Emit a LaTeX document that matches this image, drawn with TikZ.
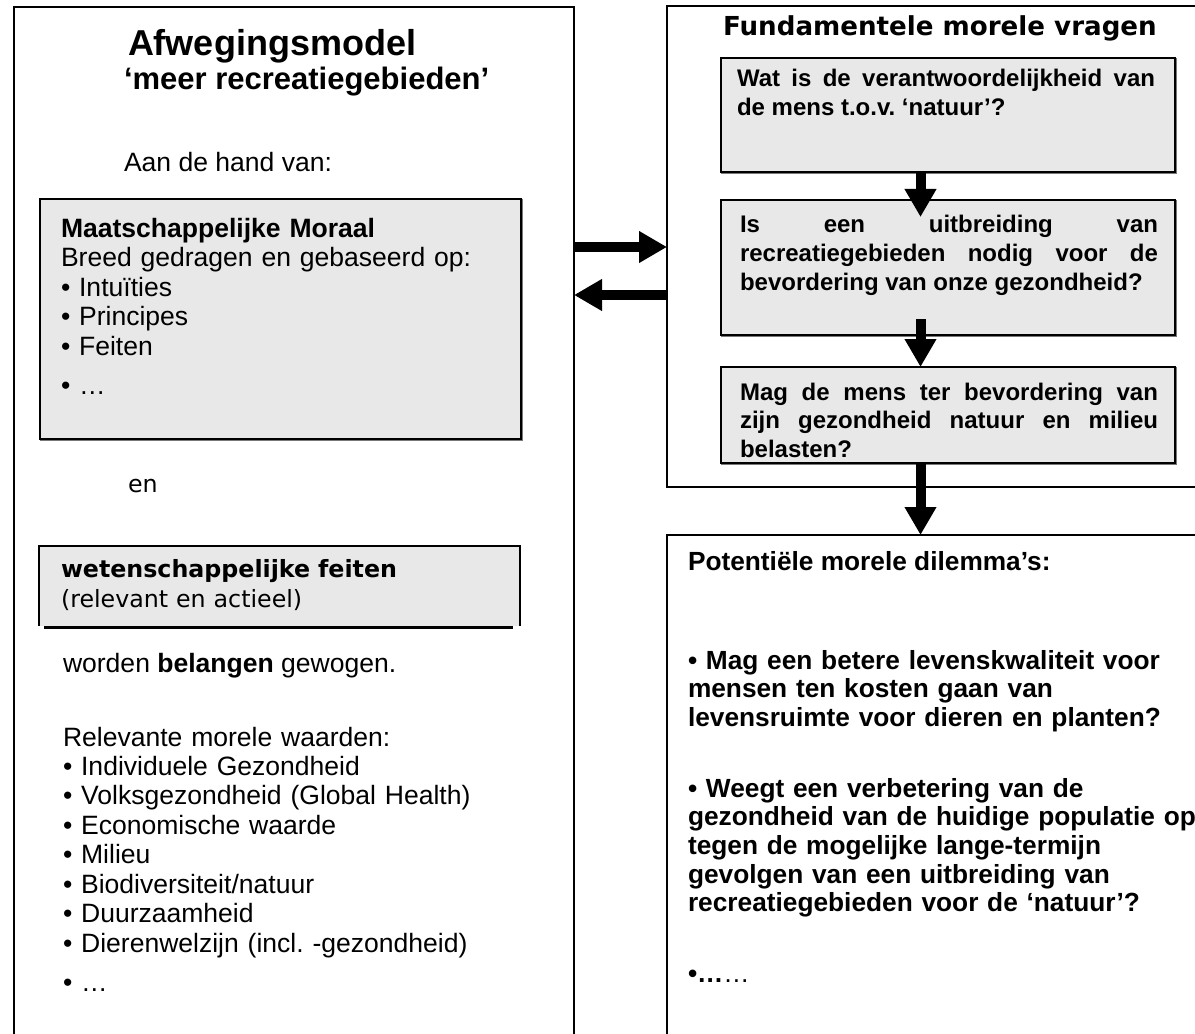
\documentclass[tikz,border=0pt]{standalone}
\usepackage{fontspec}
\setmainfont{Liberation Sans}
\newfontfamily\verd{DejaVu Sans}
\usetikzlibrary{arrows.meta}
\definecolor{boxgray}{RGB}{232,232,232}
\definecolor{shadowgray}{RGB}{120,120,120}
\newcommand\fsz[2]{\fontsize{#1}{#2}\selectfont}
\begin{document}
\frenchspacing
\begin{tikzpicture}[x=0.75pt,y=-0.75pt,
  frame/.style={draw=black, line width=1.1pt, inner sep=0pt, outer sep=0pt, anchor=north west},
  graybox/.style={draw=black, fill=boxgray, line width=1.3pt, inner sep=0pt, outer sep=0pt, anchor=north west},
  boxshadow/.style={draw=shadowgray, line width=1pt},
  txt/.style={anchor=base west, inner sep=0pt, outer sep=0pt, align=left},
  block/.style={anchor=base west, inner sep=0pt, outer sep=0pt, align=left, text width=#1},
  qtxt/.style={anchor=base west, inner sep=0pt, outer sep=0pt, align=justify, text width=313.5pt,
     font={\fsz{18}{21.4}\bfseries\frenchspacing\hyphenpenalty=10000\exhyphenpenalty=10000\tolerance=10000}},
  bigarrow/.style={line width=7.5pt, -{Triangle[length=21pt,width=22.5pt]}},
]
\useasboundingbox (0,0) rectangle (1195,1034);
\clip (0,0) rectangle (1195,1034);
\fill[white] (0,0) rectangle (1195,1034);

% outer frames
\node[frame, minimum width=420pt, minimum height=825pt] (leftbox) at (14,7) {};
\node[frame, minimum width=450pt, minimum height=360.75pt] (topbox) at (667,6) {};
\node[frame, minimum width=450pt, minimum height=450pt, line width=1.5pt] (botbox) at (667,535) {};

% left column
\node[txt, font={\fsz{27}{32}\bfseries}] (title) at (128,56) {Afwegingsmodel};
\node[txt, font={\fsz{23.25}{28}\bfseries}] (sub) at (124,90) {‘meer recreatiegebieden’};
\node[txt, font={\fsz{19.9}{22}}] (aan) at (124,172) {Aan de hand van:};

\node[graybox, minimum width=360.75pt, minimum height=180pt] (moraalbox) at (40,199) {};
\draw[boxshadow] ([xshift=1.3pt]moraalbox.north east) -- ([xshift=1.3pt,yshift=-1.3pt]moraalbox.south east) -- ([yshift=-1.3pt]moraalbox.south west);
\node[block=340pt, font={\fsz{19.9}{22.1}}] (moraal) at (61,237.5) {\textbf{Maatschappelijke Moraal}\\Breed gedragen en gebaseerd op:\\• Intuïties\\• Principes\\• Feiten\\[7pt]• …};

\node[txt, font={\verd\fsz{17.8}{20}}] (en) at (128,492) {en};

\node[fill=boxgray, inner sep=0pt, outer sep=0pt, anchor=north west, minimum width=360.75pt, minimum height=60pt] (wfbox) at (39,546) {};
\draw[line width=1.3pt] (wfbox.south west) -- (wfbox.north west) -- (wfbox.north east) -- (wfbox.south east);
\draw[line width=1.8pt] ([xshift=4pt,yshift=-1.2pt]wfbox.south west) -- ([xshift=-5pt,yshift=-1.2pt]wfbox.south east);
\node[block=340pt, font={\verd\fsz{17.8}{22.5}}] (wf) at (61,577) {\textbf{wetenschappelijke feiten}\\(relevant en actieel)};

\node[txt, font={\fsz{19.9}{22}}] (worden) at (63,672) {worden \textbf{belangen} gewogen.};
\node[block=390pt, font={\fsz{19.9}{22.1}}] (waarden) at (63,746) {Relevante morele waarden:\\• Individuele Gezondheid\\• Volksgezondheid (Global Health)\\• Economische waarde\\• Milieu\\• Biodiversiteit/natuur\\• Duurzaamheid\\• Dierenwelzijn (incl. -gezondheid)\\[7pt]• …};

% right column
\node[txt, font={\verd\fsz{19.6}{22}\bfseries}] (rtitle) at (723,36) {Fundamentele morele vragen};
\node[graybox, minimum width=340.5pt, minimum height=85.5pt] (q1) at (721,58) {};
\node[graybox, minimum width=340.5pt, minimum height=101.25pt] (q2) at (721,200) {};
\node[graybox, minimum width=340.5pt, minimum height=72pt] (q3) at (721,367) {};
\foreach \q in {q1,q2,q3}{
  \draw[boxshadow] ([xshift=1.3pt]\q.north east) -- ([xshift=1.3pt,yshift=-1.3pt]\q.south east) -- ([yshift=-1.3pt]\q.south west);
}
\node[qtxt] (q1t) at (737,87) {Wat is de verantwoordelijkheid van de mens t.o.v. ‘natuur’?};
\node[qtxt] (q2t) at (740,233) {Is een uitbreiding van\linebreak recreatiegebieden nodig voor de bevordering van onze gezondheid?};
\node[qtxt] (q3t) at (740,400) {Mag de mens ter bevordering van zijn gezondheid natuur en milieu belasten?};

\node[txt, font={\fsz{19.7}{22}\bfseries}] (pot) at (688,570) {Potentiële morele dilemma’s:};
\node[block=420pt, font={\fsz{19.7}{21.4}\bfseries}] (dil) at (688,669) {• Mag een betere levenskwaliteit voor\\mensen ten kosten gaan van\\levensruimte voor dieren en planten?\\[32.1pt]• Weegt een verbetering van de\\gezondheid van de huidige populatie op\\tegen de mogelijke lange-termijn\\gevolgen van een uitbreiding van\\recreatiegebieden voor de ‘natuur’?\\[32.1pt]•…{\mdseries …}};

% connectors
\coordinate (ax) at (920.5,217);
\coordinate (h1) at (0,247);
\coordinate (h2) at (0,295);
\draw[bigarrow] (q1.south -| ax) -- (ax);
\draw[bigarrow] ([yshift=12pt]q2.south -| ax) -- (q3.north -| ax);
\draw[bigarrow] (q3.south -| ax) -- (botbox.north -| ax);
\draw[bigarrow] (leftbox.east |- h1) -- (topbox.west |- h1);
\draw[bigarrow] (topbox.west |- h2) -- (leftbox.east |- h2);
\end{tikzpicture}
\end{document}
